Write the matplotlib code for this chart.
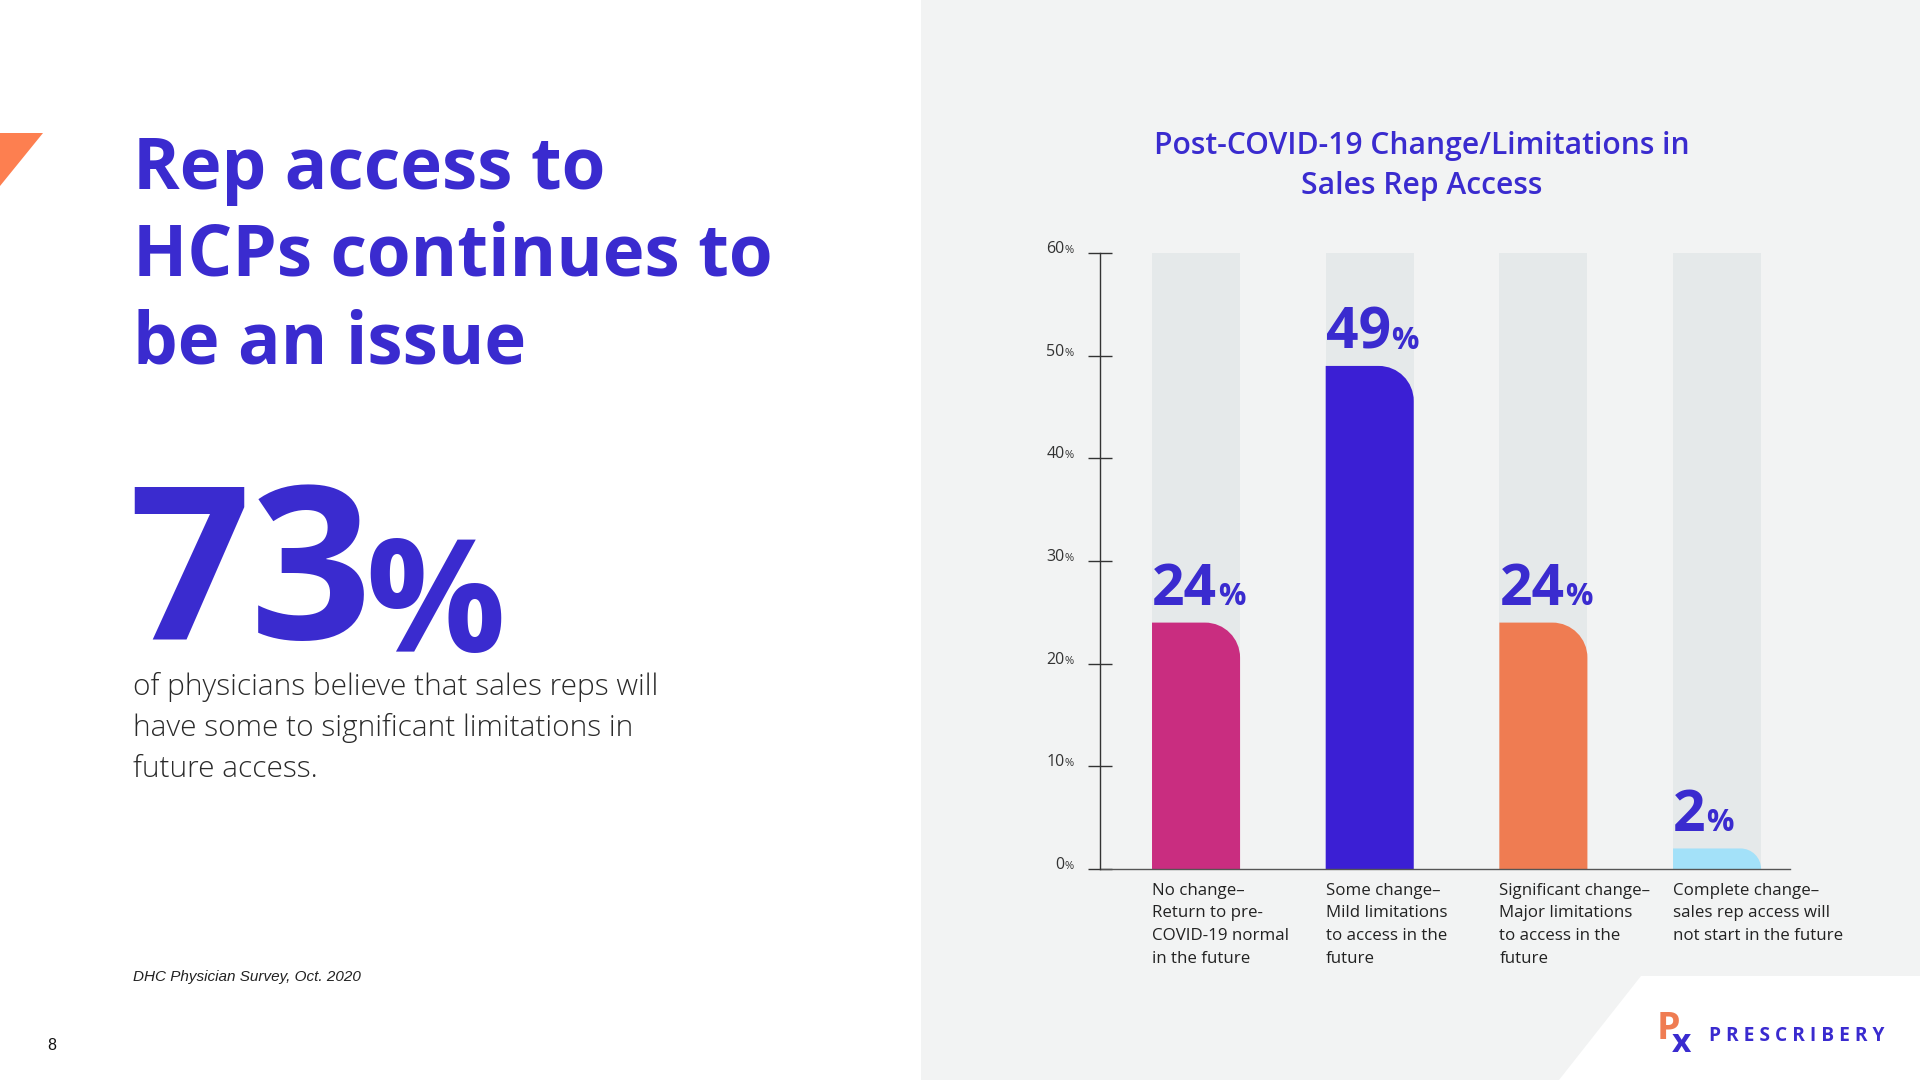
import matplotlib
matplotlib.use("Agg")
import matplotlib.pyplot as plt
from matplotlib.patches import Rectangle, Polygon, PathPatch
from matplotlib.path import Path
from matplotlib.text import Annotation

# data
categories = [
    "No change–\nReturn to pre-\nCOVID-19 normal\nin the future",
    "Some change–\nMild limitations\nto access in the\nfuture",
    "Significant change–\nMajor limitations\nto access in the\nfuture",
    "Complete change–\nsales rep access will\nnot start in the future",
]
values = [24, 49, 24, 2]
bar_colors = ["#c92d80", "#3b1fd4", "#ef7c52", "#a3e1f9"]
yticks = [0, 10, 20, 30, 40, 50, 60]

headline = ["Rep access to", "HCPs continues to", "be an issue"]
big_stat = "73"
stat_text = ["of physicians believe that sales reps will",
             "have some to significant limitations in",
             "future access."]
chart_title = "Post-COVID-19 Change/Limitations in\nSales Rep Access"
source = "DHC Physician Survey, Oct. 2020"

BLUE = "#3a2bcf"
W, H = 1920, 1080
plt.rcParams['font.family'] = ['Open Sans', 'DejaVu Sans']

fig = plt.figure(figsize=(19.2, 10.8), dpi=100)
fig.patch.set_facecolor("white")


def fx(px):
    return px / W


def fy(py):
    # py measured from the top
    return 1 - py / H


# right panel background + white corner
fig.patches.append(Rectangle((fx(921), 0), 1 - fx(921), 1, transform=fig.transFigure,
                             facecolor="#f2f3f3", edgecolor="none", zorder=-10))
fig.patches.append(Polygon([(fx(1559), fy(1080)), (fx(1641), fy(976)), (1, fy(976)), (1, 0)],
                           closed=True, transform=fig.transFigure,
                           facecolor="white", edgecolor="none", zorder=-9))
# orange triangle
fig.patches.append(Polygon([(0, fy(133)), (fx(43), fy(133)), (0, fy(186))], closed=True,
                           transform=fig.transFigure, facecolor="#fd7f50",
                           edgecolor="none", zorder=-9))

# left side text
for i, line in enumerate(headline):
    fig.text(fx(133), fy(189 + i * 87), line, fontsize=51, fontweight="bold",
             color=BLUE, va="baseline", ha="left")

t73 = fig.text(fx(128), fy(639), big_stat, fontsize=154, fontweight="bold",
               color=BLUE, va="baseline", ha="left")
pct = Annotation("%", xy=(1, 0), xycoords=t73, xytext=(-5, 0), textcoords="offset points",
                 fontsize=112, fontweight="bold", color=BLUE, va="bottom", ha="left",
                 annotation_clip=False)
fig.add_artist(pct)

for i, line in enumerate(stat_text):
    fig.text(fx(133), fy(695 + i * 41), line, fontsize=21.5, fontweight="light",
             color="#2a2a2a", va="baseline", ha="left")

fig.text(fx(133), fy(981), source, fontsize=11, style="italic",
         family=["Liberation Sans", "DejaVu Sans"], color="#222222", va="baseline")
fig.text(fx(47), fy(1050), "8", fontsize=11.5,
         family=["Liberation Sans", "DejaVu Sans"], color="#111111", va="baseline")

# logo
fig.text(fx(1709), fy(1036), " ".join("PRESCRIBERY"), fontsize=13.8, fontweight="bold",
         color=BLUE, va="center", ha="left")
fig.text(fx(1657), fy(1029), "P", fontsize=27, fontweight="bold", color="#ef7c52",
         va="center", ha="left")
fig.text(fx(1672), fy(1043), "x", fontsize=24, fontweight="bold", color=BLUE,
         va="center", ha="left")

# chart title
fig.text(fx(1422), fy(166), chart_title, fontsize=21.6, fontweight="semibold",
         color=BLUE, ha="center", va="center", linespacing=1.45)

# chart axes
ax_left, ax_right, ax_top, ax_bottom = 1100, 1790, 253, 869
ax = fig.add_axes([fx(ax_left), fy(ax_bottom), fx(ax_right - ax_left), (ax_bottom - ax_top) / H])
ax.set_facecolor("none")
x = list(range(len(values)))
ax.set_xlim(-0.553, 3.42)
ax.set_ylim(0, 60)
bw = 0.507

ax.bar(x, [60] * len(x), width=bw, color="#e5e9ea", zorder=1, clip_on=False)

# rounded top-right corner bars
p0 = ax.transData.transform((0, 0))
p1 = ax.transData.transform((1, 1))
px_x = p1[0] - p0[0]
px_y = p1[1] - p0[1]
k = 0.5523
for xi, v, c in zip(x, values, bar_colors):
    r = min(35, v * px_y)
    rx, ry = r / px_x, r / px_y
    L, R = xi - bw / 2, xi + bw / 2
    verts = [(L, 0), (R, 0), (R, v - ry),
             (R, v - ry + k * ry), (R - rx + k * rx, v), (R - rx, v),
             (L, v), (L, 0)]
    codes = [Path.MOVETO, Path.LINETO, Path.LINETO,
             Path.CURVE4, Path.CURVE4, Path.CURVE4,
             Path.LINETO, Path.CLOSEPOLY]
    ax.add_patch(PathPatch(Path(verts, codes), facecolor=c, edgecolor="none", zorder=2))
    tv = ax.annotate(f"{v}", xy=(L, v), xytext=(0, 12.5), textcoords="offset points",
                     fontsize=41, fontweight="bold", color=BLUE, ha="left", va="baseline",
                     annotation_clip=False)
    ax.annotate("%", xy=(1, v), xycoords=(tv, "data"), xytext=(0.5, 12.5),
                textcoords="offset points", fontsize=22, fontweight="bold", color=BLUE,
                ha="left", va="baseline", annotation_clip=False)
    ax.annotate(categories[xi], xy=(L, 0), xytext=(0, -10), textcoords="offset points",
                fontsize=12.2, color="#222222", ha="left", va="top", linespacing=1.55,
                annotation_clip=False)

# axes styling
for s in ["top", "right"]:
    ax.spines[s].set_visible(False)
ax.spines["left"].set_color("#333333")
ax.spines["bottom"].set_color("#555555")
ax.spines["left"].set_linewidth(1.0)
ax.spines["bottom"].set_linewidth(1.0)
ax.spines["left"].set_zorder(3)
ax.set_xticks([])
ax.set_yticks(yticks)
ax.set_yticklabels([])
ax.tick_params(axis="y", direction="inout", length=17, width=1.0, color="#333333")

for v in yticks:
    tp = ax.annotate("%", xy=(0, v), xycoords=("axes fraction", "data"), xytext=(-19, 0),
                     textcoords="offset points", fontsize=8, color="#333333",
                     ha="right", va="baseline", annotation_clip=False)
    ax.annotate(f"{v}", xy=(0, v), xycoords=(tp, "data"), xytext=(0, 0),
                textcoords="offset points", fontsize=11.5, color="#333333",
                ha="right", va="baseline", annotation_clip=False)

fig.savefig("out.png", dpi=100)
